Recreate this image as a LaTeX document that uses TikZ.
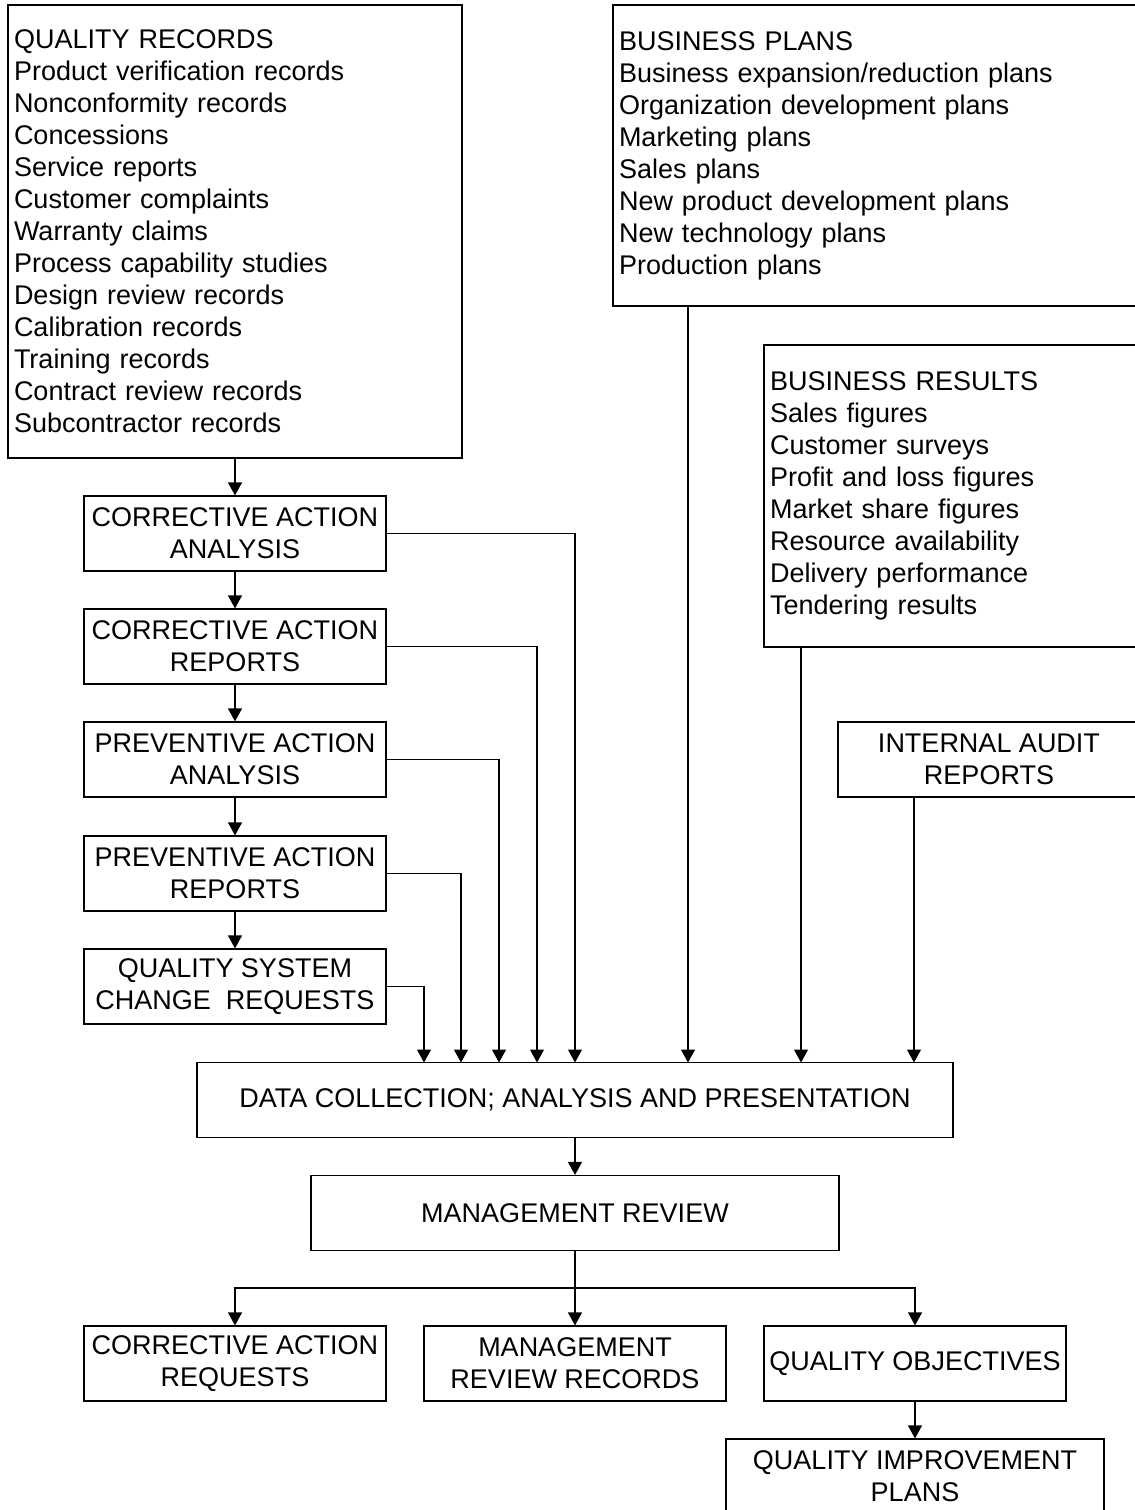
\documentclass[tikz,border=0pt]{standalone}
\usepackage{fontspec}
\setmainfont{Liberation Sans}
\usetikzlibrary{arrows.meta}

\tikzset{
  box/.style={draw, line width=0.6pt, inner sep=0pt, align=center,
    minimum width=151pt, minimum height=37.5pt,
    font=\fontsize{13.5}{16}\selectfont},
  listbox/.style={box, align=left, inner xsep=3pt},
  arr/.style={line width=0.6pt, -{Triangle[width=7pt,length=6.5pt]}},
  link/.style={line width=0.6pt}
}

\begin{document}
\begin{tikzpicture}[x=0.5pt,y=-0.5pt]
\useasboundingbox (0,0) rectangle (1135,1510);
\clip (0,0) rectangle (1135,1510);

% input boxes
\node[listbox, text width=221pt, minimum height=226.5pt] (qr) at (235,231.5)
  {QUALITY RECORDS\\Product verification records\\Nonconformity records\\Concessions\\Service reports\\Customer complaints\\Warranty claims\\Process capability studies\\Design review records\\Calibration records\\Training records\\Contract review records\\Subcontractor records};
\node[listbox, text width=267.5pt, minimum height=150.5pt] (bp) at (886.5,155.5)
  {BUSINESS PLANS\\Business expansion/reduction plans\\Organization development plans\\Marketing plans\\Sales plans\\New product development plans\\New technology plans\\Production plans};
\node[listbox, text width=192pt, minimum height=151pt] (br) at (962,496)
  {BUSINESS RESULTS\\Sales figures\\Customer surveys\\Profit and loss figures\\Market share figures\\Resource availability\\Delivery performance\\Tendering results};
\node[box] (iar) at (989,759.5) {INTERNAL AUDIT\\REPORTS};

% corrective / preventive chain
\node[box] (caa) at (235,533.5) {CORRECTIVE ACTION\\ANALYSIS};
\node[box] (car) at (235,646.5) {CORRECTIVE ACTION\\REPORTS};
\node[box] (paa) at (235,759.5) {PREVENTIVE ACTION\\ANALYSIS};
\node[box] (par) at (235,873.5) {PREVENTIVE ACTION\\REPORTS};
\node[box] (qscr) at (235,986.5) {QUALITY SYSTEM\\CHANGE\ \ REQUESTS};

% review
\node[box, minimum width=378pt] (dc) at (575,1100) {DATA COLLECTION; ANALYSIS AND PRESENTATION};
\node[box, minimum width=264pt] (mr) at (575,1213) {MANAGEMENT REVIEW};

% outputs
\node[box] (careq) at (235,1363.5) {CORRECTIVE ACTION\\REQUESTS};
\node[box] (mrr) at (575,1363.5) {MANAGEMENT\\REVIEW RECORDS};
\node[box] (qo) at (915,1363.5) {QUALITY OBJECTIVES};
\node[box, minimum width=189pt] (qip) at (915,1476.5) {QUALITY IMPROVEMENT\\PLANS};

% connectors
\draw[arr] (qr.south) -- (caa.north);
\foreach \a/\b in {caa/car, car/paa, paa/par, par/qscr}
  \draw[arr] (\a.south) -- (\b.north);

\foreach \n/\x in {1/424, 2/461, 3/499, 4/537, 5/575, 6/688, 7/801, 8/914}
  \coordinate (in\n) at (\x,1062.5);
\draw[arr] (qscr.east) -| (in1);
\draw[arr] (par.east) -| (in2);
\draw[arr] (paa.east) -| (in3);
\draw[arr] (car.east) -| (in4);
\draw[arr] (caa.east) -| (in5);
\draw[arr] (bp.south -| in6) -- (in6);
\draw[arr] (br.south -| in7) -- (in7);
\draw[arr] (iar.south -| in8) -- (in8);

\draw[arr] (dc.south) -- (mr.north);
\coordinate (split) at (575,1288);
\draw[link] (mr.south) -- (split);
\draw[arr] (split) -- (mrr.north);
\draw[arr] (split) -| (careq.north);
\draw[arr] (split) -| (qo.north);
\draw[arr] (qo.south) -- (qip.north);
\end{tikzpicture}
\end{document}
